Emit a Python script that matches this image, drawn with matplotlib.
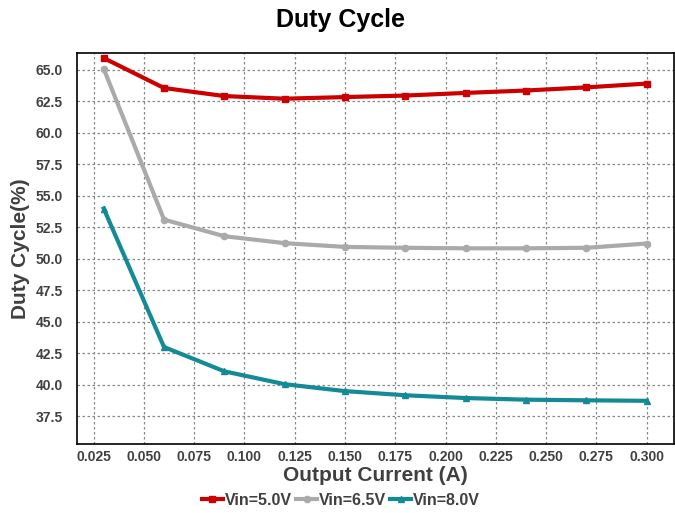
import matplotlib
matplotlib.use("Agg")
import matplotlib.pyplot as plt
import numpy as np
from matplotlib.ticker import FormatStrFormatter

plt.rcParams['font.family'] = ['Liberation Sans', 'DejaVu Sans']

# Données
courant = [0.03, 0.06, 0.09, 0.12, 0.15, 0.18, 0.21, 0.24, 0.27, 0.30]
vin_5_0 = [65.95, 63.57, 62.93, 62.72, 62.85, 62.97, 63.18, 63.37, 63.62, 63.92]
vin_6_5 = [65.1, 53.12, 51.8, 51.25, 50.95, 50.88, 50.84, 50.84, 50.88, 51.22]
vin_8_0 = [54.0, 43.0, 41.07, 40.05, 39.5, 39.17, 38.95, 38.82, 38.77, 38.73]

xticks = [0.025, 0.05, 0.075, 0.1, 0.125, 0.15, 0.175, 0.2, 0.225, 0.25, 0.275, 0.3]
yticks = [37.5, 40.0, 42.5, 45.0, 47.5, 50.0, 52.5, 55.0, 57.5, 60.0, 62.5, 65.0]

fig = plt.figure(figsize=(6.75, 5.13), dpi=100)
ax = fig.add_axes([0.114, 0.1345, 0.8845, 0.7622])

ax.plot(courant, vin_5_0, color='#CC0000', lw=3, marker='s', ms=5, label='Vin=5.0V')
ax.plot(courant, vin_6_5, color='#AAAAAA', lw=3, marker='o', ms=4.5, label='Vin=6.5V')
ax.plot(courant, vin_8_0, color='#138A96', lw=3, marker='^', ms=5, label='Vin=8.0V')

ax.set_xlim(0.0167, 0.3136)
ax.set_ylim(35.3, 66.35)
ax.set_xticks(xticks)
ax.set_yticks(yticks)
ax.xaxis.set_major_formatter(FormatStrFormatter('%.3f'))
ax.yaxis.set_major_formatter(FormatStrFormatter('%.1f'))
ax.tick_params(length=0, labelsize=10, labelcolor='#404040')
ax.tick_params(axis='x', pad=4)
ax.tick_params(axis='y', pad=10)
for lab in ax.get_xticklabels() + ax.get_yticklabels():
    lab.set_fontweight('bold')

ax.grid(True, linestyle=(0, (2, 2)), color='#888888', lw=0.9)
for s in ax.spines.values():
    s.set_color('black')
    s.set_linewidth(1.2)

fig.suptitle('Duty Cycle', x=0.505, y=0.985, fontsize=18, fontweight='bold')
ax.set_xlabel('Output Current (A)', fontsize=15, fontweight='bold', color='#404040', labelpad=2)
ax.set_ylabel('Duty Cycle(%)', fontsize=15, fontweight='bold', color='#404040', labelpad=4)

leg = fig.legend(loc='lower center', bbox_to_anchor=(0.505, -0.018), ncol=3, frameon=False,
                 handlelength=1.3, handletextpad=0.1, columnspacing=0.3,
                 prop={'weight': 'bold', 'size': 11.5})
for t in leg.get_texts():
    t.set_color('#404040')

plt.savefig('out.png', dpi=100)
